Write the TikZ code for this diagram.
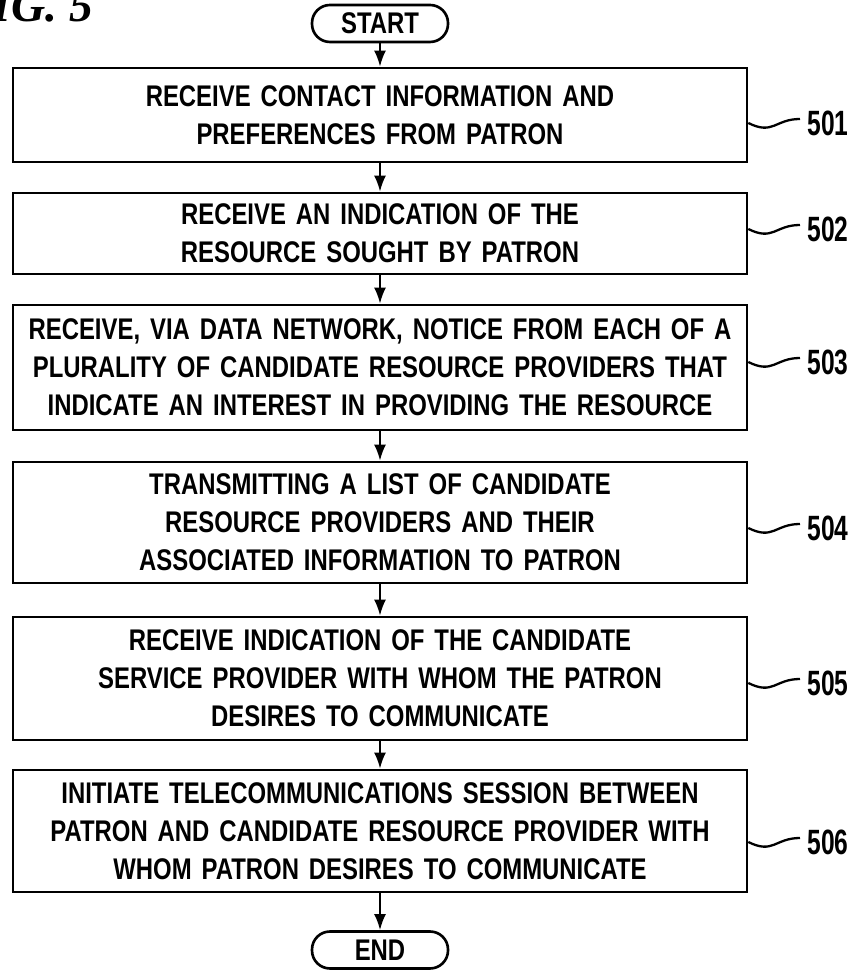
\documentclass[tikz,border=0pt]{standalone}
\usepackage{fontspec}
\setmainfont{Liberation Sans}
\newfontfamily\boxfont[FakeStretch=0.8]{Liberation Sans}
\newfontfamily\numfont[FakeStretch=0.7]{Liberation Sans}
\newfontfamily\figfont{Liberation Serif}
\usetikzlibrary{arrows.meta}

\begin{document}
\begin{tikzpicture}[
  stepbox/.style={draw, line width=1.5pt, minimum width=14.68cm, text width=14.4cm, align=center,
    font=\boxfont\bfseries\fontsize{17}{21.5}\selectfont},
  term/.style={draw, line width=1.5pt, rounded corners=0.36cm, minimum width=2.72cm, minimum height=0.74cm,
    inner sep=0pt, font=\boxfont\bfseries\fontsize{17}{17}\selectfont},
  reflabel/.style={anchor=west, inner sep=0pt, font=\numfont\bfseries\fontsize{20}{20}\selectfont},
  flow/.style={draw, line width=1.2pt, -{Latex[length=0.32cm,width=0.24cm]}},
  lead/.style={draw, line width=1.3pt}
]
\useasboundingbox (0,0) rectangle (17.02,19.42);

\node[anchor=base east, font=\figfont\bfseries\itshape\fontsize{27}{27}\selectfont] (fig) at (1.98,18.98) {FIG. 5};

\node[term] (st) at (7.6,18.95) {START};

\node[stepbox, minimum height=1.88cm] (a) at (7.6,17.12) {RECEIVE CONTACT INFORMATION AND\\PREFERENCES FROM PATRON};
\node[stepbox, minimum height=1.62cm] (b) at (7.6,14.75) {RECEIVE AN INDICATION OF THE\\RESOURCE SOUGHT BY PATRON};
\node[stepbox, minimum height=2.50cm] (c) at (7.6,12.07) {RECEIVE, VIA DATA NETWORK, NOTICE FROM EACH OF A\\PLURALITY OF CANDIDATE RESOURCE PROVIDERS THAT\\INDICATE AN INTEREST IN PROVIDING THE RESOURCE};
\node[stepbox, minimum height=2.42cm] (d) at (7.6,8.97) {TRANSMITTING A LIST OF CANDIDATE\\RESOURCE PROVIDERS AND THEIR\\ASSOCIATED INFORMATION TO PATRON};
\node[stepbox, minimum height=2.46cm] (e) at (7.6,5.85) {RECEIVE INDICATION OF THE CANDIDATE\\SERVICE PROVIDER WITH WHOM THE PATRON\\DESIRES TO COMMUNICATE};
\node[stepbox, minimum height=2.44cm] (f) at (7.6,2.80) {INITIATE TELECOMMUNICATIONS SESSION BETWEEN\\PATRON AND CANDIDATE RESOURCE PROVIDER WITH\\WHOM PATRON DESIRES TO COMMUNICATE};

\node[term] (en) at (7.6,0.42) {END};

\path[flow] (st) -- (a);
\path[flow] (a) -- (b);
\path[flow] (b) -- (c);
\path[flow] (c) -- (d);
\path[flow] (d) -- (e);
\path[flow] (e) -- (f);
\path[flow] (f) -- (en);

% reference numerals
\node[reflabel] (la) at (16.14,16.96) {501};
\node[reflabel] (lb) at (16.14,14.84) {502};
\node[reflabel] (lc) at (16.14,12.18) {503};
\node[reflabel] (ld) at (16.14,8.86) {504};
\node[reflabel] (le) at (16.14,5.76) {505};
\node[reflabel] (lf) at (16.14,2.58) {506};

\path[lead] (a.east |- la.west) .. controls +(0.5,-0.25) and +(-0.5,0) .. ([xshift=-0.14cm,yshift=0.08cm]la.west);
\path[lead] (b.east |- lb.west) .. controls +(0.5,-0.25) and +(-0.5,0) .. ([xshift=-0.14cm,yshift=0.08cm]lb.west);
\path[lead] (c.east |- lc.west) .. controls +(0.5,-0.25) and +(-0.5,0) .. ([xshift=-0.14cm,yshift=0.08cm]lc.west);
\path[lead] (d.east |- ld.west) .. controls +(0.5,-0.25) and +(-0.5,0) .. ([xshift=-0.14cm,yshift=0.08cm]ld.west);
\path[lead] (e.east |- le.west) .. controls +(0.5,-0.25) and +(-0.5,0) .. ([xshift=-0.14cm,yshift=0.08cm]le.west);
\path[lead] (f.east |- lf.west) .. controls +(0.5,-0.25) and +(-0.5,0) .. ([xshift=-0.14cm,yshift=0.08cm]lf.west);
\end{tikzpicture}
\end{document}
